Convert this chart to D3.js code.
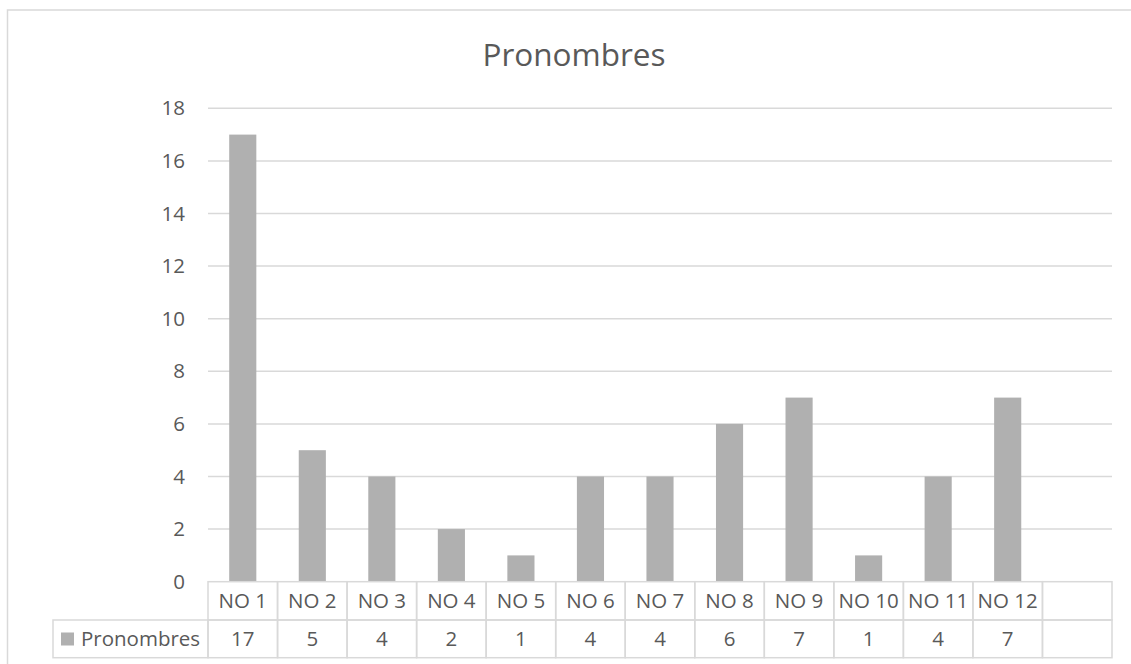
<!DOCTYPE html>
<html>
<head>
<meta charset="utf-8">
<script src="https://cdn.jsdelivr.net/npm/d3@7"></script>
<style>
  html, body { margin: 0; padding: 0; background: #fff; }
  svg { display: block; }
  text { font-family: "Open Sans", "Liberation Sans", sans-serif; fill: #595959; }
</style>
</head>
<body>
<svg id="chart" width="1131" height="664"></svg>
<script>
// Chart data
const title = "Pronombres";
const seriesName = "Pronombres";
const categories = ["NO 1", "NO 2", "NO 3", "NO 4", "NO 5", "NO 6", "NO 7", "NO 8", "NO 9", "NO 10", "NO 11", "NO 12"];
const values = [17, 5, 4, 2, 1, 4, 4, 6, 7, 1, 4, 7];
const yTicks = [0, 2, 4, 6, 8, 10, 12, 14, 16, 18];

// The category axis keeps one trailing empty slot
const slots = categories.concat([""]);

const svg = d3.select("#chart");
const W = 1131, H = 664;

const plot = { left: 208, right: 1112, top: 108.3, bottom: 581.7 };
const row1 = { top: 581.7, bottom: 620 };
const row2 = { top: 620, bottom: 657.7 };
const legendLeft = 53;
const gridColor = "#d9d9d9";
const barColor = "#b0b0b0";
const labelSize = "20.5px";

// Outer chart frame
svg.append("rect")
  .attr("x", 7.5).attr("y", 10)
  .attr("width", W + 20).attr("height", H + 20)
  .attr("fill", "none").attr("stroke", gridColor).attr("stroke-width", 1.5);

// Title
svg.append("text")
  .attr("x", 574).attr("y", 66)
  .attr("text-anchor", "middle")
  .style("font-size", "31.5px")
  .text(title);

// Scales
const y = d3.scaleLinear().domain([0, 18]).range([plot.bottom, plot.top]);
const xCell = d3.scaleBand().domain(slots).range([plot.left, plot.right]).padding(0);
const xBar = d3.scaleBand().domain(slots).range([plot.left, plot.right])
  .paddingInner(0.61).paddingOuter(0.305);

// Horizontal gridlines
svg.append("g")
  .selectAll("line")
  .data(yTicks.filter(t => t > 0))
  .join("line")
  .attr("x1", plot.left).attr("x2", plot.right)
  .attr("y1", d => y(d)).attr("y2", d => y(d))
  .attr("stroke", gridColor).attr("stroke-width", 1.5);

// Value axis labels
const yAxis = d3.axisLeft(y).tickValues(yTicks).tickSize(0).tickPadding(23);
const yg = svg.append("g").attr("transform", `translate(${plot.left},0)`).call(yAxis);
yg.select(".domain").remove();
yg.selectAll("text")
  .attr("fill", "#595959")
  .style("font-family", "'Open Sans', 'Liberation Sans', sans-serif")
  .style("font-size", labelSize);

// Bars
svg.append("g")
  .selectAll("rect")
  .data(categories.map((c, i) => ({ c, v: values[i] })))
  .join("rect")
  .attr("x", d => xBar(d.c))
  .attr("width", xBar.bandwidth())
  .attr("y", d => y(d.v))
  .attr("height", d => y(0) - y(d.v))
  .attr("fill", barColor);

// Data table
const table = svg.append("g").attr("stroke", gridColor).attr("stroke-width", 1.5).attr("fill", "none");
// Row 1 (category names), row 2 (values) with legend cell
slots.forEach(s => {
  table.append("rect")
    .attr("x", xCell(s)).attr("y", row1.top)
    .attr("width", xCell.bandwidth()).attr("height", row1.bottom - row1.top);
  table.append("rect")
    .attr("x", xCell(s)).attr("y", row2.top)
    .attr("width", xCell.bandwidth()).attr("height", row2.bottom - row2.top);
});
table.append("rect")
  .attr("x", legendLeft).attr("y", row2.top)
  .attr("width", plot.left - legendLeft).attr("height", row2.bottom - row2.top);

const cellText = svg.append("g").style("font-size", labelSize).attr("text-anchor", "middle");
cellText.selectAll("text.cat")
  .data(categories)
  .join("text")
  .attr("class", "cat")
  .attr("x", d => xCell(d) + xCell.bandwidth() / 2)
  .attr("y", (row1.top + row1.bottom) / 2)
  .attr("dy", "0.35em")
  .text(d => d);
cellText.selectAll("text.val")
  .data(categories.map((c, i) => ({ c, v: values[i] })))
  .join("text")
  .attr("class", "val")
  .attr("x", d => xCell(d.c) + xCell.bandwidth() / 2)
  .attr("y", (row2.top + row2.bottom) / 2)
  .attr("dy", "0.35em")
  .text(d => d.v);

// Legend key in the table
svg.append("rect")
  .attr("x", 61).attr("y", 632.5)
  .attr("width", 13).attr("height", 13)
  .attr("fill", barColor);
svg.append("text")
  .attr("x", 81).attr("y", (row2.top + row2.bottom) / 2)
  .attr("dy", "0.35em")
  .style("font-size", labelSize)
  .text(seriesName);
</script>
</body>
</html>
